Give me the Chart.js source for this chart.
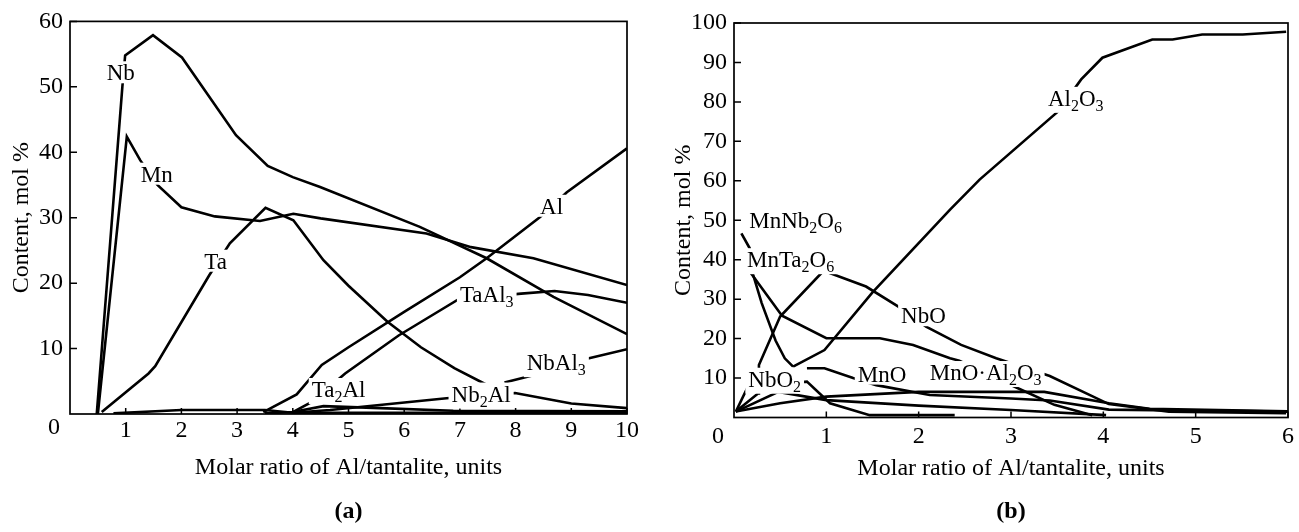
<!DOCTYPE html>
<html>
<head>
<meta charset="utf-8">
<script src="https://cdn.jsdelivr.net/npm/chart.js@4.4.0/dist/chart.umd.min.js"></script>
<style>
html, body { margin: 0; padding: 0; background: #fff; }
#wrap { position: relative; width: 1299px; height: 532px; }
.panel { position: absolute; top: 0; height: 532px; }
#pa { left: 0; width: 650px; }
#pb { left: 650px; width: 649px; }
</style>
</head>
<body>
<div id="wrap">
  <div class="panel" id="pa"><canvas id="chartA" width="650" height="532"></canvas></div>
  <div class="panel" id="pb"><canvas id="chartB" width="649" height="532"></canvas></div>
</div>
<script>
// ---- panel (a) data: Al/tantalite ratio vs content, mol %
var nbX = [0.48, 0.94, 0.99, 1.49, 2.01, 2.98, 3.55, 4.0, 4.49, 6.28, 7.48, 8.68, 10];
var nbY = [0, 50, 54.8, 57.9, 54.5, 42.6, 37.9, 36.2, 34.7, 28.6, 23.8, 17.9, 12.2];
var mnX = [0.5, 1.02, 1.26, 1.57, 2.0, 2.6, 3.41, 4.01, 4.5, 6.4, 7.2, 8.32, 10];
var mnY = [0, 42.4, 38.8, 35, 31.6, 30.2, 29.5, 30.6, 29.9, 27.6, 25.5, 23.8, 19.7];
var taX = [0.57, 1.41, 1.53, 2.5, 2.87, 3.51, 4.01, 4.55, 5.0, 5.7, 6.3, 6.9, 7.54];
var taY = [0.3, 6.2, 7.3, 21.2, 26.1, 31.5, 29.6, 23.5, 19.6, 14.1, 10.2, 7.0, 4.2];
var alX = [3.47, 4.07, 4.52, 5.0, 6.0, 7.0, 7.48, 8.44, 8.92, 10];
var alY = [0.3, 3.0, 7.5, 10.2, 15.6, 20.9, 23.8, 30.1, 33.9, 40.6];
var taal3X = [4.0, 4.35, 4.94, 5.9, 6.97, 8.1, 8.7, 9.3, 10];
var taal3Y = [0.3, 1.9, 6.2, 12.0, 17.5, 18.4, 18.8, 18.2, 17.0];
var ta2alX = [3.5, 4.0, 4.55, 5.57, 6.88, 10];
var ta2alY = [0.1, 0.3, 1.2, 0.9, 0.5, 0.4];
var nb2alX = [4.0, 4.67, 6.76, 7.99, 9.0, 10];
var nb2alY = [0.2, 0.6, 2.4, 3.2, 1.6, 0.9];
var nbal3X = [7.8, 8.3, 9.3, 10];
var nbal3Y = [4.8, 5.9, 8.5, 9.9];
var baseX = [0.78, 2.0, 3.5, 4.0, 10];
var baseY = [0.1, 0.6, 0.6, 0.2, 0.2];

// ---- panel (b) data
var al2o3X = [0.64, 0.98, 1.5, 2.34, 2.66, 3.51, 3.76, 3.99, 4.53, 4.75, 5.07, 5.51, 5.98];
var al2o3Y = [12.9, 17.1, 31.7, 52.7, 60.3, 77.6, 85.7, 91.2, 95.8, 95.8, 97.1, 97.1, 97.8];
var mnnbX = [0.08, 0.17, 0.19, 0.3, 0.45, 0.55, 0.64];
var mnnbY = [46.7, 42.9, 37.5, 29, 19.5, 15, 12.9];
var mntaX = [0.17, 0.52, 1.0, 1.58, 1.94, 2.34, 2.44, 3.04, 3.47, 3.88];
var mntaY = [37, 25.8, 20.1, 20.1, 18.4, 15, 14.4, 7.8, 3.2, 0.6];
var nboX = [0.02, 0.26, 0.27, 0.5, 0.97, 1.43, 1.78, 2.08, 2.46, 2.84, 3.42, 4.06, 4.71, 5.98];
var nboY = [1.5, 6.1, 13.3, 25.6, 37.2, 33.2, 28.1, 23.0, 18.4, 15.0, 10.5, 3.4, 1.5, 1.1];
var nbo2X = [0.02, 0.15, 0.79, 1.04, 1.47, 2.39];
var nbo2Y = [1.5, 7.8, 9.1, 3.6, 0.6, 0.6];
var mnoX = [0.79, 0.98, 1.29, 1.54, 2.12, 3.0, 3.42, 4.06, 6.0];
var mnoY = [12.5, 12.5, 10, 8.2, 5.7, 4.8, 4.3, 2.0, 1.5];
var mnoalX = [0.02, 0.5, 1.0, 2.0, 2.88, 3.36, 4.06, 4.5, 6.0];
var mnoalY = [1.5, 3.6, 5.3, 6.5, 6.5, 6.5, 3.6, 2.2, 1.6];
var peakX = [0.02, 0.48, 1.0, 2.0, 3.0, 4.03];
var peakY = [1.5, 6.5, 4.4, 3.0, 1.9, 0.6];

// tick values
var ticksAX = [1, 2, 3, 4, 5, 6, 7, 8, 9, 10];
var ticksAY = [10, 20, 30, 40, 50, 60];
var ticksBX = [1, 2, 3, 4, 5, 6];
var ticksBY = [10, 20, 30, 40, 50, 60, 70, 80, 90, 100];

// curve labels ("_n" = subscript), anchored at left/baseline in data units
var labelsA = [
  { t: 'Nb', x: 0.66, y: 51.0 },
  { t: 'Mn', x: 1.27, y: 35.5 },
  { t: 'Ta', x: 2.41, y: 22.2 },
  { t: 'Al', x: 8.44, y: 30.6 },
  { t: 'TaAl_3', x: 7.0, y: 17.1 },
  { t: 'Ta_2Al', x: 4.34, y: 2.6 },
  { t: 'Nb_2Al', x: 6.85, y: 1.9 },
  { t: 'NbAl_3', x: 8.2, y: 6.7 }
];
var labelsB = [
  { t: 'MnNb_2O_6', x: 0.165, y: 48.0 },
  { t: 'MnTa_2O_6', x: 0.14, y: 38.1 },
  { t: 'NbO', x: 1.81, y: 23.9 },
  { t: 'Al_2O_3', x: 3.40, y: 79.0 },
  { t: 'NbO_2', x: 0.155, y: 7.8 },
  { t: 'MnO', x: 1.34, y: 9.1 },
  { t: 'MnO\u00b7Al_2O_3', x: 2.12, y: 9.5 }
];

Chart.defaults.font.family = '"Liberation Serif", "Times New Roman", serif';
Chart.defaults.color = '#000';

function pts(xs, ys) {
  return xs.map(function (x, i) { return { x: x, y: ys[i] }; });
}
function line(name, xs, ys) {
  return { label: name, data: pts(xs, ys), showLine: true, borderColor: '#000',
    borderWidth: 2.6, pointRadius: 0, tension: 0, fill: false };
}

var MAIN = '23px "Liberation Serif"';
var SUB = '16px "Liberation Serif"';

function drawRich(ctx, text, x, y) {
  var parts = text.split(/_(\d)/);
  var segs = [];
  var w = 0;
  parts.forEach(function (p, i) {
    if (!p) return;
    var sub = i % 2 === 1;
    ctx.font = sub ? SUB : MAIN;
    var pw = ctx.measureText(p).width;
    segs.push({ p: p, sub: sub, w: pw });
    w += pw;
  });
  var hasSub = segs.some(function (s) { return s.sub; });
  ctx.fillStyle = '#fff';
  ctx.fillRect(x - 3, y - 19, w + 6, hasSub ? 26 : 22);
  ctx.fillStyle = '#000';
  ctx.textBaseline = 'alphabetic';
  ctx.textAlign = 'left';
  var cx = x;
  segs.forEach(function (s) {
    ctx.font = s.sub ? SUB : MAIN;
    ctx.fillText(s.p, cx, s.sub ? y + 5 : y);
    cx += s.w;
  });
}

var decor = {
  id: 'decor',
  afterDatasetsDraw: function (chart, args, opts) {
    var ctx = chart.ctx;
    var xs = chart.scales.x, ys = chart.scales.y;
    var a = chart.chartArea;
    ctx.save();
    ctx.strokeStyle = '#000';
    ctx.lineWidth = 1.7;
    ctx.strokeRect(a.left, a.top, a.right - a.left, a.bottom - a.top);
    ctx.lineWidth = 1.5;
    ctx.beginPath();
    opts.tx.forEach(function (v) {
      var px = xs.getPixelForValue(v);
      ctx.moveTo(px, a.bottom); ctx.lineTo(px, a.bottom - 6);
    });
    opts.ty.forEach(function (v) {
      var py = ys.getPixelForValue(v);
      ctx.moveTo(a.left, py); ctx.lineTo(a.left + 7, py);
    });
    ctx.stroke();
    opts.labels.forEach(function (l) {
      drawRich(ctx, l.t, xs.getPixelForValue(l.x), ys.getPixelForValue(l.y));
    });
    ctx.fillStyle = '#000';
    ctx.font = '24px "Liberation Serif"';
    ctx.textAlign = 'center';
    ctx.textBaseline = 'middle';
    ctx.fillText('0', xs.getPixelForValue(0) - opts.zeroDx, a.bottom + opts.zeroDy);
    ctx.font = 'bold 24px "Liberation Serif"';
    ctx.fillText(opts.letter, (a.left + a.right) / 2, 512);
    ctx.restore();
  }
};

function makeChart(id, datasets, xmax, ymax, cfg) {
  return new Chart(document.getElementById(id), {
    type: 'scatter',
    data: { datasets: datasets },
    options: {
      responsive: false,
      animation: false,
      layout: { padding: cfg.pad },
      plugins: { legend: { display: false }, tooltip: { enabled: false }, decor: cfg.decor },
      scales: {
        x: {
          type: 'linear', min: 0, max: xmax,
          grid: { display: false, drawTicks: false },
          border: { display: false },
          ticks: { stepSize: 1, padding: cfg.xpad, font: { size: 24 },
            callback: function (v) { return v === 0 ? '' : v; } },
          title: { display: true, text: 'Molar ratio of Al/tantalite, units',
            font: { size: 24 }, padding: { top: 0, bottom: cfg.xtitle } },
          afterFit: function (s) { s.height = cfg.xh; }
        },
        y: {
          type: 'linear', min: 0, max: ymax,
          grid: { display: false, drawTicks: false },
          border: { display: false },
          ticks: { stepSize: 10, padding: 7, font: { size: 24 },
            callback: function (v) { return v === 0 ? '' : v; } },
          title: { display: true, text: 'Content, mol %',
            font: { size: 24 }, padding: { top: cfg.ytitle, bottom: 0 } },
          afterFit: function (s) { s.width = cfg.yw; }
        }
      }
    },
    plugins: [decor]
  });
}

makeChart('chartA', [
  line('Nb', nbX, nbY), line('Mn', mnX, mnY), line('Ta', taX, taY), line('Al', alX, alY),
  line('TaAl3', taal3X, taal3Y), line('Ta2Al', ta2alX, ta2alY), line('Nb2Al', nb2alX, nb2alY),
  line('NbAl3', nbal3X, nbal3Y), line('base', baseX, baseY)
], 10, 60, {
  pad: { left: 0, right: 23, top: 20, bottom: 0 },
  xh: 118, yw: 70, xpad: 2, xtitle: 50, ytitle: 7,
  decor: { tx: ticksAX, ty: ticksAY, labels: labelsA, letter: '(a)', zeroDx: 16, zeroDy: 14 }
});

makeChart('chartB', [
  line('Al2O3', al2o3X, al2o3Y), line('MnNb2O6', mnnbX, mnnbY), line('MnTa2O6', mntaX, mntaY),
  line('NbO', nboX, nboY), line('NbO2', nbo2X, nbo2Y), line('MnO', mnoX, mnoY),
  line('MnO-Al2O3', mnoalX, mnoalY), line('other', peakX, peakY)
], 6, 100, {
  pad: { left: 0, right: 10, top: 23, bottom: 0 },
  xh: 114.5, yw: 84, xpad: 5, xtitle: 49, ytitle: 19,
  decor: { tx: ticksBX, ty: ticksBY, labels: labelsB, letter: '(b)', zeroDx: 16, zeroDy: 19 }
});
</script>
</body>
</html>
